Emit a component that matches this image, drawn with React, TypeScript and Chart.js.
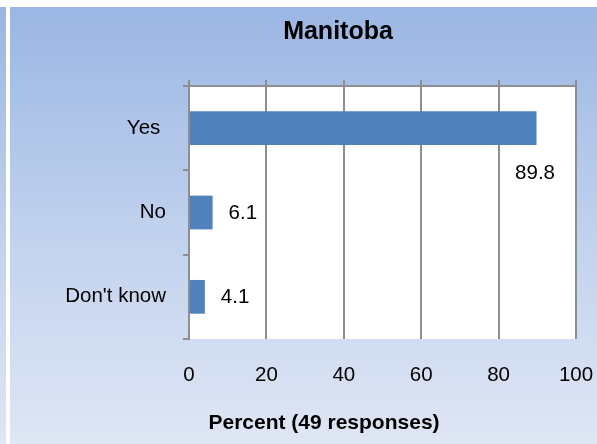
import React, { useEffect, useRef } from 'react';
import { Chart, registerables } from 'chart.js';

Chart.register(...registerables);

// ---- data ----
const categories = ['Yes ', 'No', "Don't know"];
const percentValues = [89.8, 6.1, 4.1];
const xTickValues = [0, 20, 40, 60, 80, 100];
const chartTitle = 'Manitoba';
const xAxisTitle = 'Percent (49 responses)';

// ---- style ----
const FONT = "'Liberation Sans', Arial, sans-serif";
const GRID = '#8e8e8e';
const BAR = '#4f81bd';
const W = 587;
const H = 437;

const plotBackground = {
  id: 'plotBackground',
  beforeDraw(chart: any) {
    const { ctx, chartArea } = chart;
    ctx.save();
    ctx.fillStyle = '#ffffff';
    ctx.fillRect(chartArea.left, chartArea.top, chartArea.right - chartArea.left, chartArea.bottom - chartArea.top);
    ctx.restore();
  },
};

const valueLabels = {
  id: 'valueLabels',
  afterDatasetsDraw(chart: any) {
    const { ctx, chartArea } = chart;
    const meta = chart.getDatasetMeta(0);
    const data = chart.data.datasets[0].data as number[];
    ctx.save();
    ctx.font = `20.5px ${FONT}`;
    ctx.fillStyle = '#000';
    ctx.textBaseline = 'middle';
    meta.data.forEach((bar: any, i: number) => {
      const text = data[i].toFixed(1);
      const w = ctx.measureText(text).width;
      const gap = 16;
      if (bar.x + gap + w > chartArea.right) {
        ctx.textAlign = 'center';
        ctx.fillText(text, bar.x - 1.5, bar.y + bar.height / 2 + 28.5);
      } else {
        ctx.textAlign = 'left';
        ctx.fillText(text, bar.x + gap, bar.y + 1);
      }
    });
    ctx.restore();
  },
};

const titles = {
  id: 'titles',
  afterDraw(chart: any) {
    const { ctx, chartArea } = chart;
    ctx.save();
    ctx.fillStyle = '#000';
    ctx.textAlign = 'center';
    ctx.textBaseline = 'middle';
    ctx.font = `bold 25px ${FONT}`;
    ctx.fillText(chartTitle, chartArea.left + 149, chartArea.top - 53.5);
    ctx.font = `bold 21px ${FONT}`;
    ctx.fillText(xAxisTitle, chartArea.left + 135, chartArea.bottom + 84.5);
    ctx.restore();
  },
};

export default function App() {
  const ref = useRef<HTMLCanvasElement | null>(null);

  useEffect(() => {
    if (!ref.current) return;
    const setTicks = (scale: any) => {
      scale.ticks = xTickValues.map((v) => ({ value: v }));
    };
    const chart = new Chart(ref.current, {
      type: 'bar',
      data: {
        labels: categories,
        datasets: [
          {
            data: percentValues,
            backgroundColor: BAR,
            borderWidth: 0,
            barPercentage: 0.4,
            categoryPercentage: 1.0,
            xAxisID: 'x',
          },
        ],
      },
      options: {
        indexAxis: 'y',
        responsive: false,
        animation: false,
        devicePixelRatio: 1,
        layout: { padding: { top: 73, right: 21, bottom: 57, left: 0 } },
        plugins: {
          legend: { display: false },
          tooltip: { enabled: false },
          title: { display: false },
        },
        scales: {
          x: {
            type: 'linear',
            position: 'bottom',
            min: 0,
            max: 100,
            afterBuildTicks: setTicks,
            afterFit: (s: any) => {
              s.height = 48;
            },
            grid: { color: GRID, lineWidth: 2, drawTicks: true, tickLength: 24, tickColor: 'rgba(0,0,0,0)' },
            border: { display: false },
            ticks: { padding: 0, color: '#000', font: { family: FONT, size: 20.5 } },
          },
          x2: {
            type: 'linear',
            position: 'top',
            min: 0,
            max: 100,
            afterBuildTicks: setTicks,
            afterFit: (s: any) => {
              s.height = 6;
            },
            grid: { color: GRID, lineWidth: 2, drawOnChartArea: false, drawTicks: true, tickLength: 6 },
            border: { display: true, color: GRID, width: 2 },
            ticks: { display: false, padding: 0 },
          },
          y: {
            type: 'category',
            position: 'left',
            afterFit: (s: any) => {
              s.width = 179;
            },
            grid: { color: GRID, lineWidth: 2, drawOnChartArea: false, drawTicks: true, tickLength: 6, offset: true },
            border: { display: true, color: GRID, width: 2 },
            ticks: { padding: 17, color: '#000', font: { family: FONT, size: 20.5 } },
          },
        },
      },
      plugins: [plotBackground, valueLabels, titles],
    });
    return () => chart.destroy();
  }, []);

  const gradient = 'linear-gradient(to bottom, #9bb6e3 0%, #c3d3ee 55%, #dfe6f4 100%)';

  return (
    <div style={{ position: 'fixed', left: 0, top: 7, width: 597, height: H, display: 'flex', background: '#fff' }}>
      <div style={{ width: 6, height: H, background: gradient }} />
      <div style={{ width: 4, height: H, background: '#fff' }} />
      <div style={{ width: W, height: H, background: gradient }}>
        <canvas ref={ref} width={W} height={H} style={{ display: 'block', width: W, height: H }} />
      </div>
    </div>
  );
}
